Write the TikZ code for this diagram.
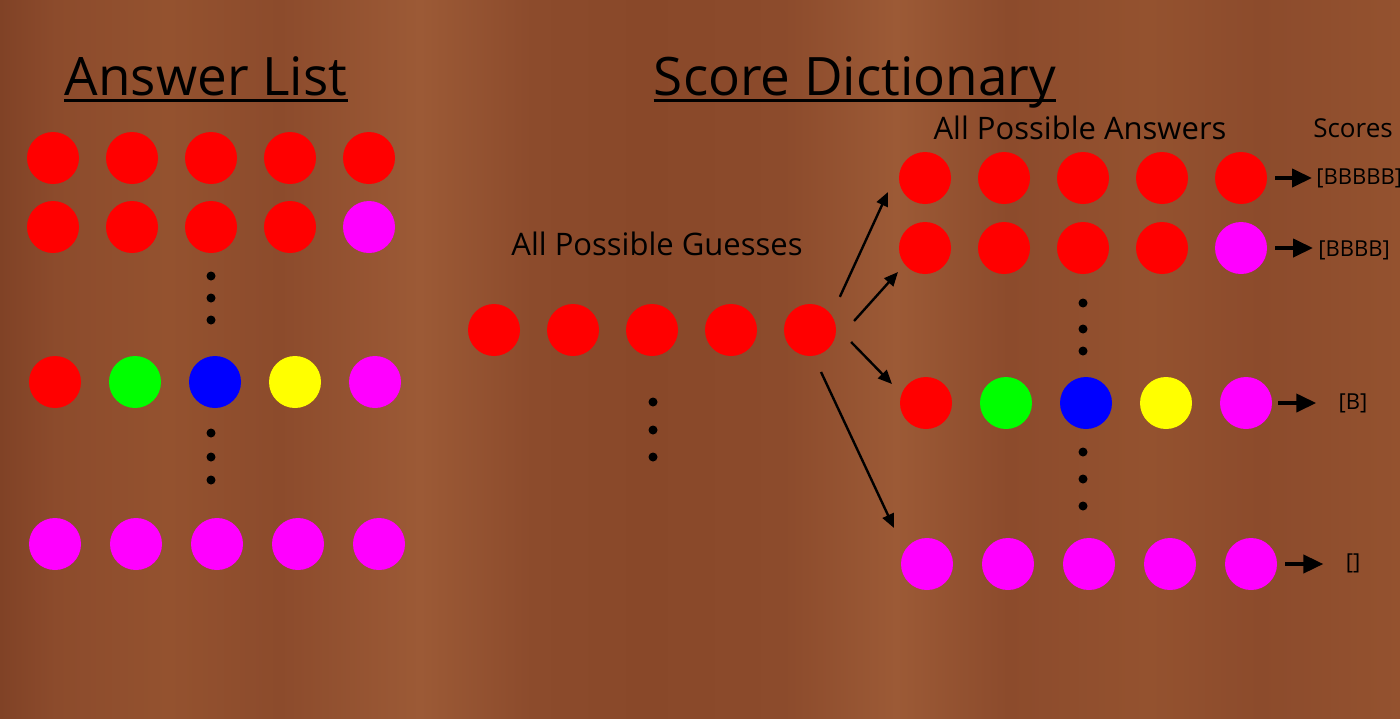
\documentclass[tikz,border=0pt]{standalone}
\usepackage{fontspec}
\setmainfont{Open Sans}
\usepackage{xcolor}
\usetikzlibrary{arrows.meta}

\definecolor{woodA}{HTML}{804226}
\definecolor{woodB}{HTML}{8C4B2C}
\definecolor{woodC}{HTML}{94522F}
\definecolor{woodD}{HTML}{9C5A36}
\definecolor{woodE}{HTML}{894829}
\definecolor{pegred}{HTML}{FF0000}
\definecolor{pegmagenta}{HTML}{FF00FF}
\definecolor{peggreen}{HTML}{00FF00}
\definecolor{pegblue}{HTML}{0000FF}
\definecolor{pegyellow}{HTML}{FFFF00}

\pgfdeclarehorizontalshading{woodgrain}{100bp}{color(0bp)=(woodA); color(25bp)=(woodA);
  color(27bp)=(woodB); color(31bp)=(woodC); color(35bp)=(woodB); color(40bp)=(woodD);
  color(44bp)=(woodB); color(48bp)=(woodE); color(53bp)=(woodB); color(57bp)=(woodD);
  color(61bp)=(woodB); color(66bp)=(woodC); color(70bp)=(woodB); color(75bp)=(woodC);
  color(100bp)=(woodC)}

\tikzset{
	peg/.style={circle, minimum size=26pt, inner sep=0pt},
	pegdot/.style={circle, fill=black, minimum size=4.5pt, inner sep=0pt},
	title/.style={font=\fontsize{26.5}{30}\selectfont, anchor=base, inner sep=0pt},
	caption/.style={font=\fontsize{15.5}{18}\selectfont, anchor=base, inner sep=0pt},
	scorelabel/.style={font=\fontsize{11}{13}\selectfont, inner sep=0pt},
	guessarrow/.style={-{Triangle[length=7pt,width=6pt]}, line width=1.2pt},
	scorearrow/.style={-{Triangle[length=10pt,width=9pt]}, line width=2pt}
}

\begin{document}
\begin{tikzpicture}[x=0.5pt, y=-0.5pt]
			\useasboundingbox (0,0) rectangle (1400,718);
			\shade[shading=woodgrain] (0,0) rectangle (1400,718);

			% titles
			\node[title] (ansT) at (206,95) {Answer List};
			\node[title] (dictT) at (855,95) {Score Dictionary};
			\draw[line width=1.5pt] ([yshift=-2.5pt]ansT.base west) -- ([yshift=-2.5pt]ansT.base east);
			\draw[line width=1.5pt] ([yshift=-2.5pt]dictT.base west) -- ([yshift=-2.5pt]dictT.base east);

			\node[caption] (guessT) at (657,255) {All Possible Guesses};
			\node[caption] (answersT) at (1080,139) {All Possible Answers};
			\node[caption, font=\fontsize{13}{15}\selectfont] (scoresT) at (1353,137) {Scores};

			% answer list
			\foreach \r/\y/\x/\dx/\cols in {1/158/53/79/{pegred,pegred,pegred,pegred,pegred},
					2/227/53/79/{pegred,pegred,pegred,pegred,pegmagenta},
					3/382/55/80/{pegred,peggreen,pegblue,pegyellow,pegmagenta},
					4/544/55/81/{pegmagenta,pegmagenta,pegmagenta,pegmagenta,pegmagenta}}
				\foreach \c [count=\i] in \cols
					\node[peg, fill=\c] (ans\r-\i) at ({\x+\dx*(\i-1)},\y) {};

			% guesses
			\foreach \i in {1,...,5}
				\node[peg, fill=pegred] (guess\i) at ({494+79*(\i-1)},330) {};

			% all possible answers
			\foreach \r/\y/\x/\dx/\cols in {1/178/925/79/{pegred,pegred,pegred,pegred,pegred},
					2/248/925/79/{pegred,pegred,pegred,pegred,pegmagenta},
					3/403/926/80/{pegred,peggreen,pegblue,pegyellow,pegmagenta},
					4/564/927/81/{pegmagenta,pegmagenta,pegmagenta,pegmagenta,pegmagenta}}
				\foreach \c [count=\i] in \cols
					\node[peg, fill=\c] (dict\r-\i) at ({\x+\dx*(\i-1)},\y) {};

			% dots
			\foreach \y [count=\i] in {276,298,320,433,457,480}
				\node[pegdot] (ansdot\i) at (211,\y) {};
			\foreach \y [count=\i] in {402,430,457}
				\node[pegdot] (guessdot\i) at (653,\y) {};
			\foreach \y [count=\i] in {303,329,351,452,479,506}
				\node[pegdot] (dictdot\i) at (1083,\y) {};

			% guess to answers
			\coordinate (tip1) at (888,192);
			\coordinate (tip2) at (898,272);
			\coordinate (tip3) at (892,384);
			\coordinate (tip4) at (894,528);
			\draw[guessarrow] ([shift={(48:22.3pt)}]guess5.center) -- (tip1);
			\draw[guessarrow] ([shift={(11.6:22.5pt)}]guess5.center) -- (tip2);
			\draw[guessarrow] ([shift={(-16.3:21.4pt)}]guess5.center) -- (tip3);
			\draw[guessarrow] ([shift={(-75.3:21.7pt)}]guess5.center) -- (tip4);

			% scores
			\node[scorelabel, anchor=west] (score1) at (1316,178) {[BBBBB]};
			\node[scorelabel, anchor=west] (score2) at (1318,250) {[BBBB]};
			\node[scorelabel] (score3) at (1353,403) {[B]};
			\node[scorelabel] (score4) at (1353,563) {[]};
			\draw[scorearrow, shorten >=2pt] ([xshift=4pt]dict1-5.east) -- (score1.west |- dict1-5.east);
			\draw[scorearrow, shorten >=2.5pt] ([xshift=4pt]dict2-5.east) -- (score2.west |- dict2-5.east);
			\draw[scorearrow, shorten >=11pt] ([xshift=3pt]dict3-5.east) -- (score3.west |- dict3-5.east);
			\draw[scorearrow, shorten >=11pt] ([xshift=4pt]dict4-5.east) -- (score4.west |- dict4-5.east);
		\end{tikzpicture}
\end{document}
